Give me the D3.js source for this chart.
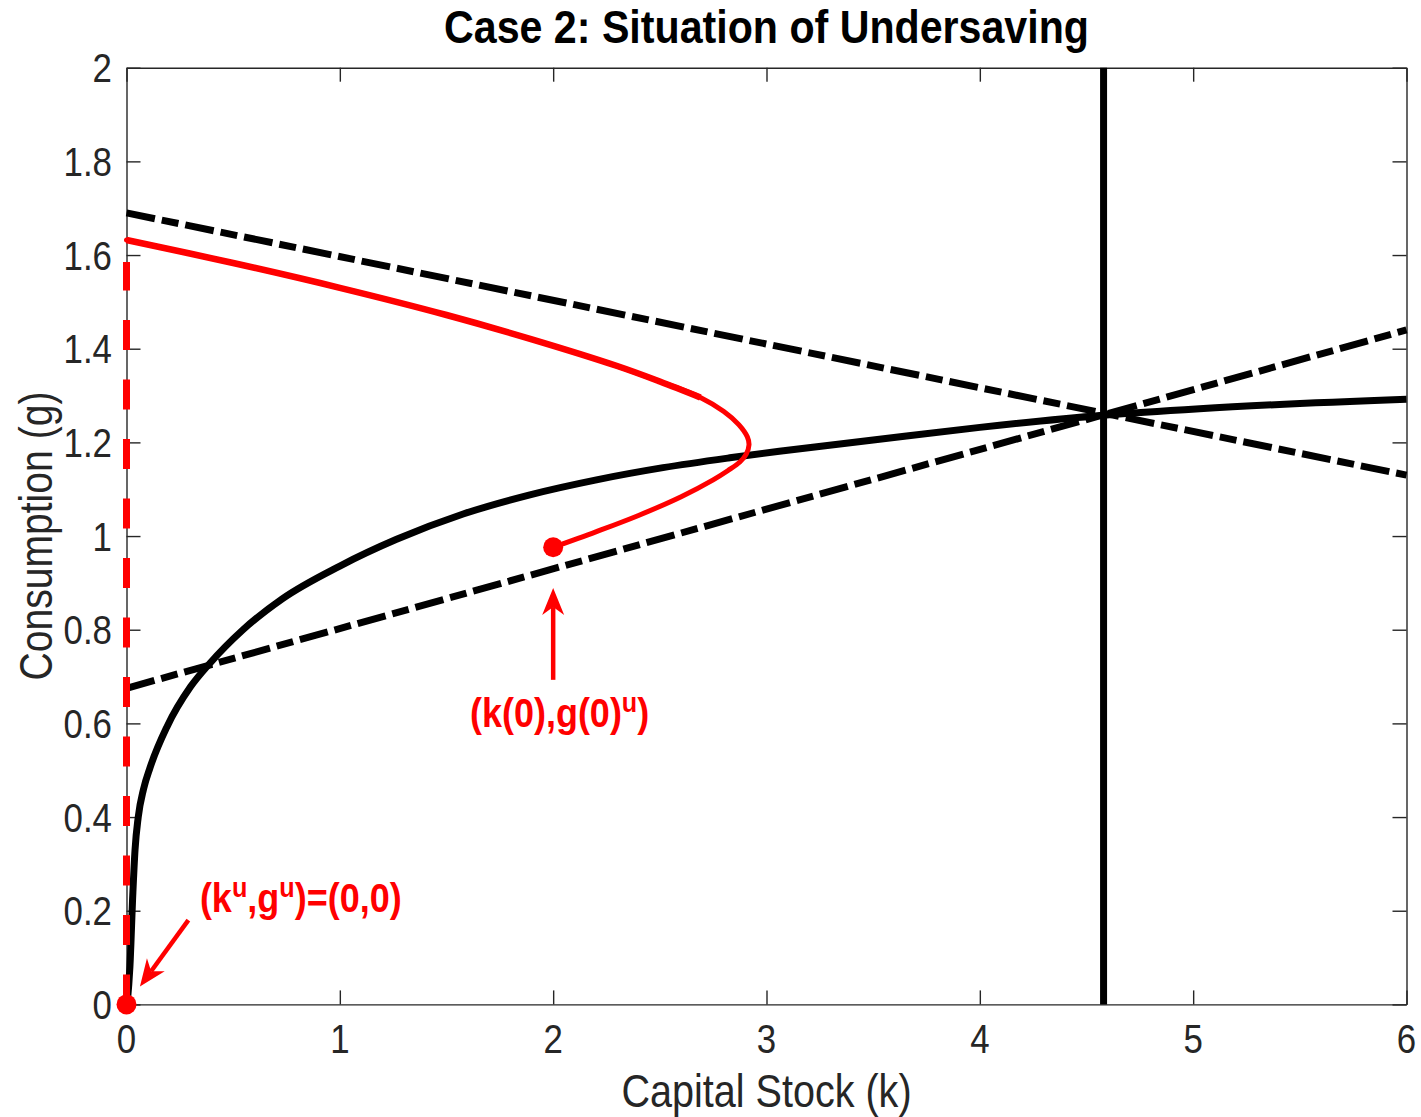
<!DOCTYPE html>
<html>
<head>
<meta charset="utf-8">
<script src="https://cdn.jsdelivr.net/npm/d3@7"></script>
<style>
  body { margin: 0; background: #fff; }
  text { font-family: "Liberation Sans", Arial, Helvetica, sans-serif; }
</style>
</head>
<body>
<svg id="chart" width="1421" height="1117"></svg>
<script>
// ---- axis ticks ----
const xTickValues = [0, 1, 2, 3, 4, 5, 6];
const xTickLabels = ["0", "1", "2", "3", "4", "5", "6"];
const yTickValues = [0, 0.2, 0.4, 0.6, 0.8, 1, 1.2, 1.4, 1.6, 1.8, 2];
const yTickLabels = ["0", "0.2", "0.4", "0.6", "0.8", "1", "1.2", "1.4", "1.6", "1.8", "2"];

// ---- concave locus through the steady state ----
const locusK = [0.003, 0.016, 0.03, 0.04, 0.055, 0.08, 0.11, 0.19, 0.30, 0.39, 0.546, 0.73, 1.0, 1.266, 1.578, 1.891, 2.203, 2.515, 2.828, 3.06, 3.5, 4.0, 4.58, 5.03, 6.0];
const locusG = [0, 0.08, 0.24, 0.33, 0.40, 0.46, 0.505, 0.593, 0.678, 0.728, 0.80, 0.866, 0.936, 0.993, 1.047, 1.088, 1.12, 1.146, 1.167, 1.181, 1.205, 1.232, 1.258, 1.272, 1.292];

// ---- straight dash-dot lines ----
const fallingK = [0, 6];
const fallingG = [1.69, 1.13];
const risingK = [0, 6];
const risingG = [0.675, 1.44];

// ---- steady-state capital (vertical line) ----
const steadyK = [4.58];

// ---- undersaving path: full trajectory and its heavier upper stretch ----
const pathK = [0, 0.5, 1.0, 1.5, 1.9, 2.3, 2.5, 2.69, 2.8, 2.87, 2.91, 2.918, 2.905, 2.875, 2.82, 2.75, 2.6, 2.4, 2.2, 2.0];
const pathG = [1.632, 1.583, 1.530, 1.472, 1.42, 1.363, 1.33, 1.296, 1.266, 1.238, 1.212, 1.195, 1.175, 1.158, 1.14, 1.12, 1.084, 1.044, 1.009, 0.976];
const upperCount = 8; // points 0..7 form the heavier upper stretch

// ---- red dashed segment on the g axis ----
const axisDashK = [0, 0];
const axisDashG = [0, 1.585];

// ---- highlighted points ----
const pointK = [0, 2];
const pointG = [0, 0.976];

// ---- annotation arrows (tail -> tip) and labels ----
const arrowTailK = [0.29, 2.0];
const arrowTailG = [0.18, 0.693];
const arrowTipK = [0.063, 2.0];
const arrowTipG = [0.038, 0.889];
const noteK = [0.344, 2.03];
const noteG = [0.197, 0.592];
const noteAnchor = ["start", "middle"];

const svg = d3.select("#chart");
const W = 1421, H = 1117;
const margin = { left: 126.5, right: W - 1406.5, top: 67.7, bottom: H - 1004.4 };

const x = d3.scaleLinear().domain([0, 6]).range([margin.left, W - margin.right]);
const y = d3.scaleLinear().domain([0, 2]).range([H - margin.bottom, margin.top]);

const axisColor = "#262626";
const tickFont = 41, tickScale = 0.85;

// ---- axes box with inward ticks on all sides ----
const tickLen = 14;
function styleAxis(g) {
  g.select(".domain").attr("stroke", axisColor).attr("stroke-width", 1.4);
  g.selectAll(".tick line").attr("stroke", axisColor).attr("stroke-width", 1.4);
}
const bottomAxis = svg.append("g")
  .attr("transform", `translate(0,${y(0)})`)
  .call(d3.axisBottom(x).tickValues(xTickValues).tickSize(-tickLen).tickSizeOuter(0).tickFormat(""));
styleAxis(bottomAxis);
const topAxis = svg.append("g")
  .attr("transform", `translate(0,${y(2)})`)
  .call(d3.axisTop(x).tickValues(xTickValues).tickSize(-tickLen).tickSizeOuter(0).tickFormat(""));
styleAxis(topAxis);
const leftAxis = svg.append("g")
  .attr("transform", `translate(${x(0)},0)`)
  .call(d3.axisLeft(y).tickValues(yTickValues).tickSize(-tickLen).tickSizeOuter(0).tickFormat(""));
styleAxis(leftAxis);
const rightAxis = svg.append("g")
  .attr("transform", `translate(${x(6)},0)`)
  .call(d3.axisRight(y).tickValues(yTickValues).tickSize(-tickLen).tickSizeOuter(0).tickFormat(""));
styleAxis(rightAxis);

// tick labels (narrow-set sans)
svg.append("g").selectAll("text").data(xTickValues).join("text")
  .attr("transform", d => `translate(${x(d)},1053) scale(${tickScale},1)`)
  .attr("text-anchor", "middle")
  .attr("font-size", tickFont)
  .attr("fill", axisColor)
  .text((d, i) => xTickLabels[i]);

svg.append("g").selectAll("text").data(yTickValues).join("text")
  .attr("transform", d => `translate(112,${y(d) + 0.358 * tickFont}) scale(${tickScale},1)`)
  .attr("text-anchor", "end")
  .attr("font-size", tickFont)
  .attr("fill", axisColor)
  .text((d, i) => yTickLabels[i]);

// axis titles
svg.append("text")
  .attr("transform", `translate(${(x(0) + x(6)) / 2},1107) scale(0.86,1)`)
  .attr("text-anchor", "middle")
  .attr("font-size", 46)
  .attr("fill", axisColor)
  .text("Capital Stock (k)");

svg.append("text")
  .attr("transform", `translate(52,${(y(0) + y(2)) / 2}) rotate(-90) scale(0.85,1)`)
  .attr("text-anchor", "middle")
  .attr("font-size", 46)
  .attr("fill", axisColor)
  .text("Consumption (g)");

// chart title
svg.append("text")
  .attr("transform", `translate(${(x(0) + x(6)) / 2},43) scale(0.895,1)`)
  .attr("text-anchor", "middle")
  .attr("font-size", 46)
  .attr("font-weight", "bold")
  .attr("fill", "#000")
  .text("Case 2: Situation of Undersaving");

// ---- data lines ----
const zip = (ks, gs) => ks.map((k, i) => [k, gs[i]]);
const straight = d3.line().x(d => x(d[0])).y(d => y(d[1]));
const smooth = d3.line().x(d => x(d[0])).y(d => y(d[1])).curve(d3.curveCatmullRom.alpha(0.5));
const monotone = d3.line().x(d => x(d[0])).y(d => y(d[1])).curve(d3.curveMonotoneX);

const plot = svg.append("g").attr("fill", "none");

// dash-dot lines
[[fallingK, fallingG], [risingK, risingG]].forEach(([ks, gs]) => {
  plot.append("path").datum(zip(ks, gs))
    .attr("d", straight).attr("stroke", "#000").attr("stroke-width", 7)
    .attr("stroke-dasharray", "29,7,17,7");
});

// concave locus
plot.append("path").datum(zip(locusK, locusG))
  .attr("d", monotone).attr("stroke", "#000").attr("stroke-width", 7)
  .attr("stroke-linejoin", "round");

// vertical steady-state line
plot.selectAll(".steady").data(steadyK).join("line")
  .attr("class", "steady")
  .attr("x1", d => x(d)).attr("x2", d => x(d))
  .attr("y1", y(0)).attr("y2", y(2))
  .attr("stroke", "#000").attr("stroke-width", 7);

// red dashed segment along g axis (drawn from the origin upward)
plot.append("path").datum(zip(axisDashK, axisDashG))
  .attr("d", straight).attr("stroke", "#ff0000").attr("stroke-width", 7)
  .attr("stroke-dasharray", "30,29.5");

// undersaving path
const pathPts = zip(pathK, pathG);
plot.append("path").datum(pathPts)
  .attr("d", smooth).attr("stroke", "#ff0000").attr("stroke-width", 5)
  .attr("stroke-linejoin", "round").attr("stroke-linecap", "round");
plot.append("path").datum(pathPts.slice(0, upperCount))
  .attr("d", smooth).attr("stroke", "#ff0000").attr("stroke-width", 6.5)
  .attr("stroke-linejoin", "round");

// highlighted points
svg.append("g").selectAll("circle").data(pointK).join("circle")
  .attr("cx", d => x(d)).attr("cy", (d, i) => y(pointG[i]))
  .attr("r", 10).attr("fill", "#ff0000");

// ---- annotations ----
const notes = svg.append("g");
arrowTailK.forEach((k, i) => {
  const x0 = x(k), y0 = y(arrowTailG[i]);
  const x1 = x(arrowTipK[i]), y1 = y(arrowTipG[i]);
  const ang = Math.atan2(y1 - y0, x1 - x0);
  const headLen = 27, notch = 19, half = 11;
  // shaft stops inside the head
  notes.append("line")
    .attr("x1", x0).attr("y1", y0)
    .attr("x2", x1 - notch * Math.cos(ang)).attr("y2", y1 - notch * Math.sin(ang))
    .attr("stroke", "#ff0000").attr("stroke-width", 4.5);
  const head = [[0, 0], [-headLen, -half], [-notch, 0], [-headLen, half]];
  notes.append("path")
    .attr("d", d3.line()(head) + "Z")
    .attr("transform", `translate(${x1},${y1}) rotate(${ang * 180 / Math.PI})`)
    .attr("fill", "#ff0000");
});

const noteParts = [
  [["(k", 0], ["u", 1], [",g", 0], ["u", 1], [")=(0,0)", 0]],
  [["(k(0),g(0)", 0], ["u", 1], [")", 0]]
];
noteParts.forEach((parts, i) => {
  const t = notes.append("text")
    .attr("transform", `translate(${x(noteK[i])},${y(noteG[i])}) scale(0.9,1)`)
    .attr("text-anchor", noteAnchor[i])
    .attr("font-size", 40)
    .attr("font-weight", "bold")
    .attr("fill", "#ff0000");
  parts.forEach(([s, sup], j) => {
    const ts = t.append("tspan").text(s);
    if (sup) ts.attr("font-size", 28).attr("dy", -15);
    else if (j > 0 && parts[j - 1][1]) ts.attr("dy", 15);
  });
});
</script>
</body>
</html>
